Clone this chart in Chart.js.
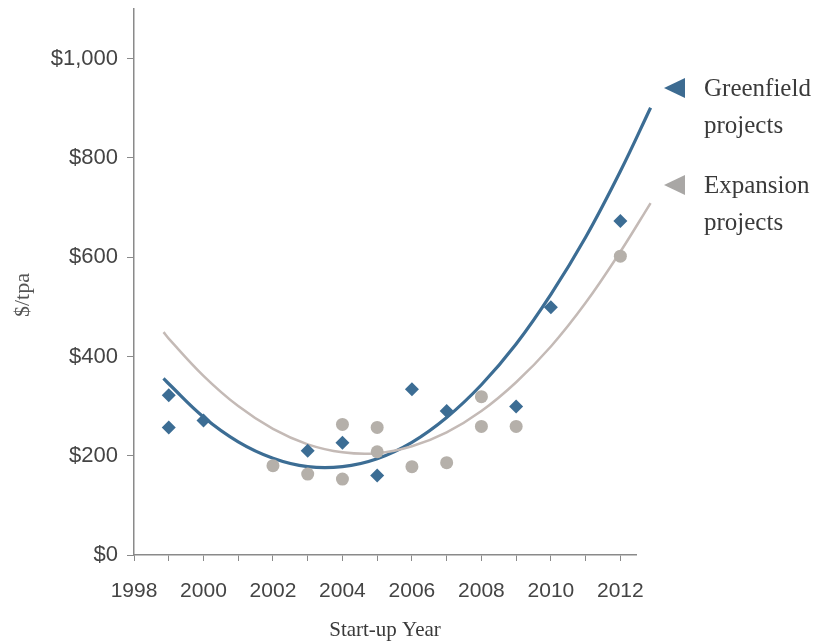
<!DOCTYPE html>
<html>
<head>
<meta charset="utf-8">
<script src="https://cdn.jsdelivr.net/npm/chart.js@4.4.1/dist/chart.umd.min.js"></script>
<style>
  html, body { margin: 0; padding: 0; background: #fff; }
  #wrap { width: 823px; height: 643px; }
</style>
</head>
<body>
<div id="wrap"><canvas id="myChart" width="823" height="643"></canvas></div>
<script>
// project points
const greenfieldYears = [1999, 1999, 2000, 2003, 2004, 2005, 2006, 2007, 2009, 2010, 2012]
const greenfieldCost = [322, 257, 271, 210, 226, 160, 334, 290, 299, 499, 673]

const expansionYears = [2002, 2003, 2004, 2004, 2005, 2005, 2006, 2007, 2008, 2008, 2009, 2012]
const expansionCost = [180, 163, 263, 153, 257, 208, 178, 186, 319, 259, 259, 602]

// trend lines
const trendYears = [1998.85, 1999, 2000, 2001, 2002, 2003, 2004, 2005, 2006, 2007, 2008, 2009, 2010, 2011, 2012, 2012.87]
const greenfieldTrend = [356, 345, 278, 228, 195, 178, 178, 194, 227, 277, 343, 425, 525, 640, 773, 901]
const expansionTrend = [449, 436, 361, 300, 254, 223, 207, 205, 219, 247, 290, 348, 420, 508, 611, 709]

const yTicks = [0, 200, 400, 600, 800, 1000]
const xLabelYears = [1998, 2000, 2002, 2004, 2006, 2008, 2010, 2012]

const legendItems = [
  { lines: ['Greenfield', 'projects'], color: '#3d6b91' },
  { lines: ['Expansion', 'projects'], color: '#a9a7a5' }
]

const blue = '#3c6d94'
const grayDot = '#b5b0aa'
const grayLine = '#c4bab6'

const toPoints = (xs, ys) => xs.map((x, i) => ({ x: x, y: ys[i] }))

// legend at the right and the y title, drawn by hand
const sideLegend = {
  id: 'sideLegend',
  afterDraw(chart) {
    const ctx = chart.ctx
    const tops = [88, 185]
    ctx.save()
    legendItems.forEach((item, i) => {
      const cy = tops[i]
      ctx.fillStyle = item.color
      ctx.beginPath()
      ctx.moveTo(664, cy)
      ctx.lineTo(685, cy - 10)
      ctx.lineTo(685, cy + 10)
      ctx.closePath()
      ctx.fill()
      ctx.fillStyle = '#3a3a3a'
      ctx.font = '25px "Liberation Serif", "Times New Roman", serif'
      ctx.textBaseline = 'alphabetic'
      ctx.textAlign = 'left'
      item.lines.forEach((t, j) => {
        ctx.fillText(t, 704, cy + 8 + j * 37)
      })
    })

    // y axis title
    ctx.translate(23, 295)
    ctx.rotate(-Math.PI / 2)
    ctx.fillStyle = '#555'
    ctx.font = '22px "Liberation Serif", "Times New Roman", serif'
    ctx.textAlign = 'center'
    ctx.textBaseline = 'middle'
    ctx.fillText('$/tpa', 0, 0)
    ctx.restore()
  }
}

const ctx = document.getElementById('myChart').getContext('2d')

const myChart = new Chart(ctx, {
  type: 'scatter',
  data: {
    datasets: [
      {
        label: 'Expansion projects',
        data: toPoints(expansionYears, expansionCost),
        pointStyle: 'circle',
        pointRadius: 6.5,
        backgroundColor: grayDot,
        borderWidth: 0
      },
      {
        label: 'Greenfield projects',
        data: toPoints(greenfieldYears, greenfieldCost),
        pointStyle: 'rectRot',
        pointRadius: 7,
        backgroundColor: blue,
        borderWidth: 0
      },
      {
        type: 'line',
        label: 'Expansion trend',
        data: toPoints(trendYears, expansionTrend),
        borderColor: grayLine,
        borderWidth: 2.5,
        pointRadius: 0,
        tension: 0.4,
        fill: false,
        clip: false
      },
      {
        type: 'line',
        label: 'Greenfield trend',
        data: toPoints(trendYears, greenfieldTrend),
        borderColor: blue,
        borderWidth: 3.2,
        pointRadius: 0,
        tension: 0.4,
        fill: false,
        clip: false
      }
    ]
  },
  options: {
    responsive: false,
    animation: false,
    layout: { padding: { left: 0, right: 187, top: 9, bottom: 0 } },
    plugins: {
      legend: { display: false },
      tooltip: { enabled: false }
    },
    scales: {
      x: {
        type: 'linear',
        min: 1998,
        max: 2012.45,
        afterBuildTicks: (scale) => {
          scale.ticks = []
          for (let y = 1998; y <= 2012; y++) scale.ticks.push({ value: y })
        },
        afterFit: (scale) => { scale.height = 88 },
        border: { color: '#8a8a8a', width: 1.5 },
        grid: { drawOnChartArea: false, drawTicks: true, tickLength: 6, tickColor: '#8a8a8a' },
        ticks: {
          autoSkip: false,
          maxRotation: 0,
          padding: 18,
          color: '#444',
          font: { family: '"Liberation Sans", Arial, sans-serif', size: 21 },
          callback: (v) => xLabelYears.includes(v) ? String(v) : ''
        },
        title: {
          display: true,
          text: 'Start-up Year',
          color: '#3a3a3a',
          font: { family: '"Liberation Serif", "Times New Roman", serif', size: 21 },
          padding: { top: 0, bottom: 0 }
        }
      },
      y: {
        min: 0,
        max: 1100,
        afterBuildTicks: (scale) => {
          scale.ticks = yTicks.map(v => ({ value: v }))
        },
        afterFit: (scale) => {
          scale.width = 134
          scale.paddingTop = 0
          scale.paddingBottom = 0
        },
        border: { color: '#8a8a8a', width: 1.5 },
        grid: { drawOnChartArea: false, drawTicks: true, tickLength: 7, tickColor: '#8a8a8a' },
        ticks: {
          padding: 9,
          color: '#444',
          font: { family: '"Liberation Sans", Arial, sans-serif', size: 22 },
          callback: (v) => '$' + v.toLocaleString('en-US')
        }
      }
    }
  },
  plugins: [sideLegend]
})
</script>
</body>
</html>
